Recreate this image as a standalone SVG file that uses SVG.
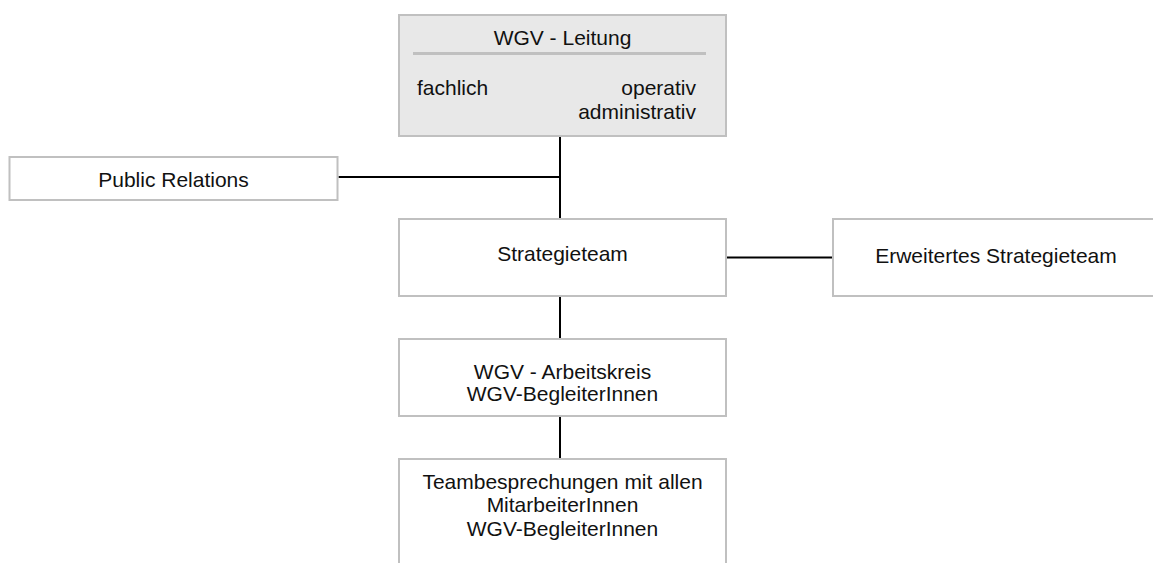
<svg xmlns="http://www.w3.org/2000/svg" width="1153" height="563" viewBox="0 0 1153 563">
<style>
.box{fill:#ffffff;stroke:#c0c0c0;stroke-width:2}
.head{fill:#e8e8e8;stroke:#c0c0c0;stroke-width:2}
.sep{stroke:#c0c0c0;stroke-width:3}
.c{stroke:#000000;stroke-width:2;fill:none}
text{font-family:"Liberation Sans",Arial,sans-serif;font-size:21px;fill:#111111}
.m{text-anchor:middle}
.e{text-anchor:end}
</style>
<rect width="1153" height="563" fill="#ffffff"/>
<g id="connectors">
<line class="c" x1="560" y1="137" x2="560" y2="218"/>
<line class="c" x1="338.5" y1="177" x2="560" y2="177"/>
<line class="c" x1="560" y1="297" x2="560" y2="338"/>
<line class="c" x1="560" y1="417" x2="560" y2="458"/>
<line class="c" x1="727" y1="257.5" x2="832" y2="257.5"/>
</g>
<g id="leitung">
<rect class="head" x="399" y="15" width="327" height="121"/>
<line class="sep" x1="413" y1="53.5" x2="706" y2="53.5"/>
<text class="m" x="562.5" y="45">WGV - Leitung</text>
<text x="417" y="95">fachlich</text>
<text class="e" x="696" y="95">operativ</text>
<text class="e" x="696" y="118.5">administrativ</text>
</g>
<g id="public-relations">
<rect class="box" x="9.5" y="157" width="328" height="43"/>
<text class="m" x="173.5" y="186.5">Public Relations</text>
</g>
<g id="strategieteam">
<rect class="box" x="399" y="219" width="327" height="77"/>
<text class="m" x="562.5" y="261">Strategieteam</text>
</g>
<g id="erweitertes-strategieteam">
<rect class="box" x="833" y="219" width="330" height="77"/>
<text class="m" x="996" y="263">Erweitertes Strategieteam</text>
</g>
<g id="arbeitskreis">
<rect class="box" x="399" y="339" width="327" height="77"/>
<text class="m" x="562.5" y="378.5">WGV - Arbeitskreis</text>
<text class="m" x="562.5" y="401">WGV-BegleiterInnen</text>
</g>
<g id="teambesprechungen">
<rect class="box" x="399" y="459" width="327" height="120"/>
<text class="m" x="562.5" y="488.5">Teambesprechungen mit allen</text>
<text class="m" x="562.5" y="512">MitarbeiterInnen</text>
<text class="m" x="562.5" y="536">WGV-BegleiterInnen</text>
</g>
</svg>
